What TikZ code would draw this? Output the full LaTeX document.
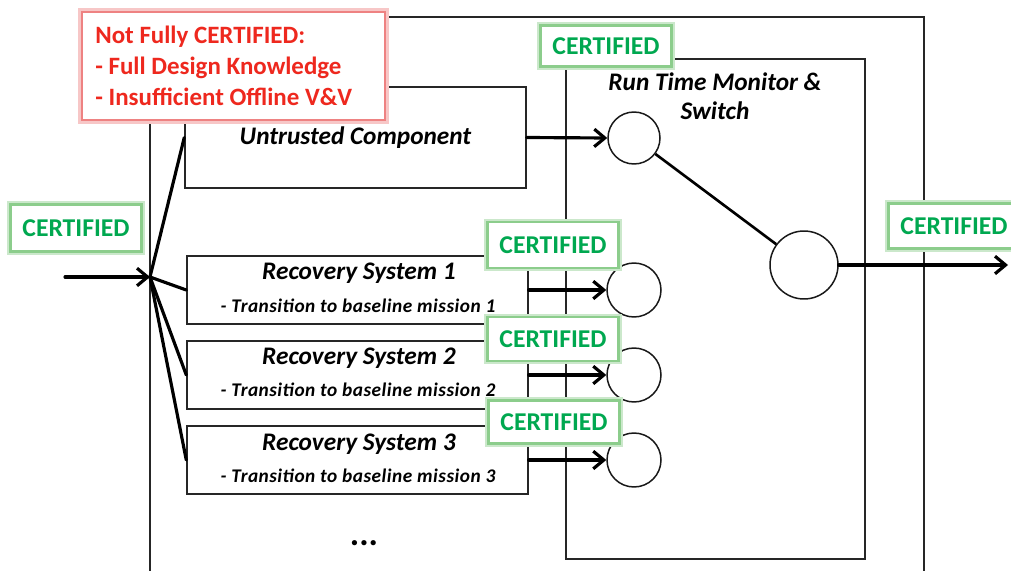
\documentclass[tikz,border=0pt]{standalone}
\usepackage{fontspec}
\setmainfont{Carlito}
\usetikzlibrary{arrows.meta}
\definecolor{certgreen}{RGB}{0,168,80}
\definecolor{glowgreen}{RGB}{140,205,140}
\definecolor{redtxt}{RGB}{238,40,30}
\definecolor{glowred}{RGB}{238,130,130}
\tikzset{
  frame/.style={draw=black!85, line width=0.85pt},
  compbox/.style={frame, minimum width=6.82cm, inner sep=0pt},
  thickline/.style={line width=1.8pt, line cap=round},
  arr/.style={thickline, -{Straight Barb[length=6pt,width=10pt]}},
  ring/.style={draw=black!90, line width=0.85pt, circle, inner sep=0pt, fill=white},
  cert/.style={preaction={draw=glowgreen!45, line width=3.6pt},
    draw=glowgreen, line width=1.6pt, fill=white, text=certgreen,
    font=\bfseries\fontsize{14.6}{18}\selectfont, inner sep=0pt,
    minimum width=2.62cm},
  titletext/.style={font=\bfseries\itshape\fontsize{14.4}{16}\selectfont},
  subtext/.style={font=\bfseries\itshape\fontsize{11}{12}\selectfont\addfontfeatures{LetterSpace=2.5}},
}
\begin{document}
\begin{tikzpicture}[x=0.02cm,y=-0.02cm]
\useasboundingbox (0,0) rectangle (1011,571);
\fill[white] (0,0) rectangle (1011,571);

% outer frame and monitor frame
\draw[frame] (150,580) -- (150,17) -- (924,17) -- (924,580);
\draw[frame] (566,59) rectangle (865,559);

% components
\node[compbox, minimum height=2.02cm] (unt) at (355.5,137.5) {};
\node[titletext] (untT) at (355.5,138) {Untrusted Component};

\node[compbox, minimum height=1.36cm] (rec1) at (357.5,290) {};
\node[titletext] (rec1T) at (359,273) {Recovery System 1};
\node[subtext] (rec1S) at (358,306) {- Transition to baseline mission 1};

\node[compbox, minimum height=1.36cm] (rec2) at (357.5,375) {};
\node[titletext] (rec2T) at (359,358) {Recovery System 2};
\node[subtext] (rec2S) at (358,390) {- Transition to baseline mission 2};

\node[compbox, minimum height=1.36cm] (rec3) at (357.5,460) {};
\node[titletext] (rec3T) at (359,444) {Recovery System 3};
\node[subtext] (rec3S) at (358,476) {- Transition to baseline mission 3};

\node[font=\bfseries\fontsize{20}{20}\selectfont] (dots) at (364,543) {...};

% monitor
\node[align=center, font=\bfseries\itshape\fontsize{14.4}{16.4}\selectfont] (mon) at (715,96) {Run Time Monitor \&\\Switch};
\node[ring, minimum size=1.04cm] (c0) at (634,138) {};
\node[ring, minimum size=1.08cm] (c1) at (634,290) {};
\node[ring, minimum size=1.08cm] (c2) at (634,375) {};
\node[ring, minimum size=1.08cm] (c3) at (634,460) {};
\node[ring, minimum size=1.36cm] (sw) at (804,265) {};

% input fan
\coordinate (in) at (65,277);
\coordinate (fan) at (150,277);
\coordinate (out) at (1008,265);
\draw[arr] (in) -- (fan);
\draw[thickline] (fan) -- (unt.west);
\draw[thickline] (fan) -- (rec1.west);
\draw[thickline] (fan) -- (rec2.west);
\draw[thickline] (fan) -- (rec3.west);

% arrows to monitor
\draw[arr] (unt.east) -- (c0.west);
\draw[arr] (rec1.east) -- (c1.west);
\draw[arr] (rec2.east) -- (c2.west);
\draw[arr] (rec3.east) -- (c3.west);
\draw[line width=1.5pt] (c0) -- (sw);
\draw[arr] (sw.east) -- (out);

% certified labels
\node[cert, minimum height=0.82cm] (cTop) at (606,46) {CERTIFIED};
\node[cert, minimum height=0.94cm] (cIn) at (76,228) {CERTIFIED};
\node[cert, minimum height=0.9cm] (cOut) at (954,226) {CERTIFIED};
\node[cert, minimum height=0.92cm] (cR1) at (553,245) {CERTIFIED};
\node[cert, minimum height=0.88cm] (cR2) at (553,339) {CERTIFIED};
\node[cert, minimum height=0.86cm] (cR3) at (554,422) {CERTIFIED};

% not fully certified
\node[preaction={draw=glowred!45, line width=4.5pt}, draw=glowred, line width=1.6pt,
  fill=white, minimum width=6.06cm, minimum height=2.16cm, inner sep=0pt] (nf) at (233.5,66) {};
\node[anchor=west, align=left, text=redtxt, inner sep=0pt,
  font=\bfseries\fontsize{14.2}{17.6}\selectfont] (nfT) at (95,66)
  {Not Fully CERTIFIED:\\- Full Design Knowledge\\- Insufficient Offline V\&V};
\end{tikzpicture}
\end{document}
